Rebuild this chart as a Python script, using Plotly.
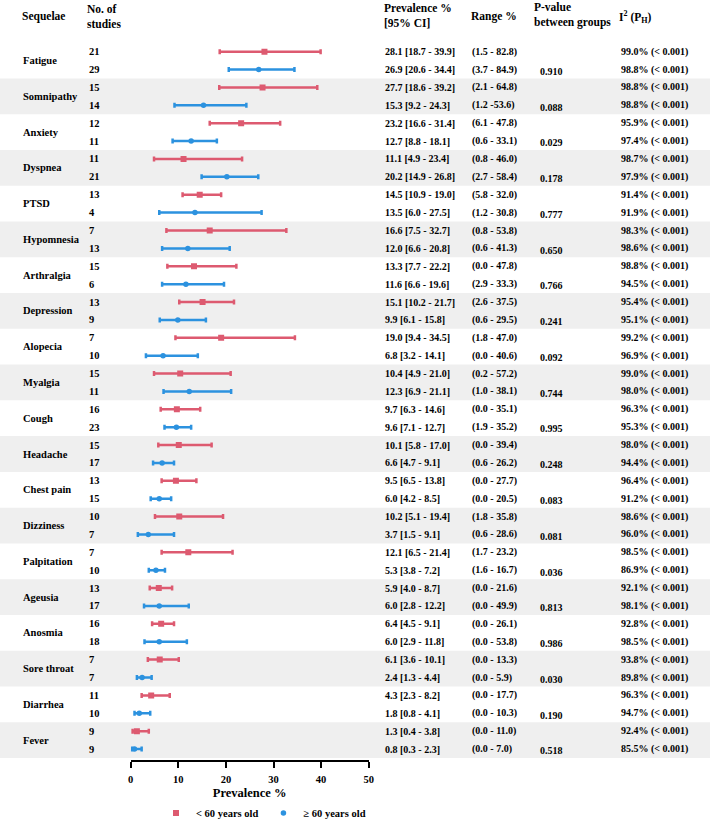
import plotly.graph_objects as go

sequelae = ["Fatigue", "Somnipathy", "Anxiety", "Dyspnea", "PTSD", "Hypomnesia", "Arthralgia",
            "Depression", "Alopecia", "Myalgia", "Cough", "Headache", "Chest pain", "Dizziness",
            "Palpitation", "Ageusia", "Anosmia", "Sore throat", "Diarrhea", "Fever"]

# < 60 years old
n_young = [21, 15, 12, 11, 13, 7, 15, 13, 7, 15, 16, 15, 13, 10, 7, 13, 16, 7, 11, 9]
prev_young = [28.1, 27.7, 23.2, 11.1, 14.5, 16.6, 13.3, 15.1, 19.0, 10.4, 9.7, 10.1, 9.5, 10.2, 12.1, 5.9, 6.4, 6.1, 4.3, 1.3]
lo_young = [18.7, 18.6, 16.6, 4.9, 10.9, 7.5, 7.7, 10.2, 9.4, 4.9, 6.3, 5.8, 6.5, 5.1, 6.5, 4.0, 4.5, 3.6, 2.3, 0.4]
hi_young = [39.9, 39.2, 31.4, 23.4, 19.0, 32.7, 22.2, 21.7, 34.5, 21.0, 14.6, 17.0, 13.8, 19.4, 21.4, 8.7, 9.1, 10.1, 8.2, 3.8]
range_young = ["(1.5 - 82.8)", "(2.1 - 64.8)", "(6.1 - 47.8)", "(0.8 - 46.0)", "(5.8 - 32.0)", "(0.8 - 53.8)",
               "(0.0 - 47.8)", "(2.6 - 37.5)", "(1.8 - 47.0)", "(0.2 - 57.2)", "(0.0 - 35.1)", "(0.0 - 39.4)",
               "(0.0 - 27.7)", "(1.8 - 35.8)", "(1.7 - 23.2)", "(0.0 - 21.6)", "(0.0 - 26.1)", "(0.0 - 13.3)",
               "(0.0 - 17.7)", "(0.0 - 11.0)"]
i2_young = ["99.0%", "98.8%", "95.9%", "98.7%", "91.4%", "98.3%", "98.8%", "95.4%", "99.2%", "99.0%",
            "96.3%", "98.0%", "96.4%", "98.6%", "98.5%", "92.1%", "92.8%", "93.8%", "96.3%", "92.4%"]

# >= 60 years old
n_old = [29, 14, 11, 21, 4, 13, 6, 9, 10, 11, 23, 17, 15, 7, 10, 17, 18, 7, 10, 9]
prev_old = [26.9, 15.3, 12.7, 20.2, 13.5, 12.0, 11.6, 9.9, 6.8, 12.3, 9.6, 6.6, 6.0, 3.7, 5.3, 6.0, 6.0, 2.4, 1.8, 0.8]
lo_old = [20.6, 9.2, 8.8, 14.9, 6.0, 6.6, 6.6, 6.1, 3.2, 6.9, 7.1, 4.7, 4.2, 1.5, 3.8, 2.8, 2.9, 1.3, 0.8, 0.3]
hi_old = [34.4, 24.3, 18.1, 26.8, 27.5, 20.8, 19.6, 15.8, 14.1, 21.1, 12.7, 9.1, 8.5, 9.1, 7.2, 12.2, 11.8, 4.4, 4.1, 2.3]
range_old = ["(3.7 - 84.9)", "(1.2 -53.6)", "(0.6 - 33.1)", "(2.7 - 58.4)", "(1.2 - 30.8)", "(0.6 - 41.3)",
             "(2.9 - 33.3)", "(0.6 - 29.5)", "(0.0 - 40.6)", "(1.0 - 38.1)", "(1.9 - 35.2)", "(0.6 - 26.2)",
             "(0.0 - 20.5)", "(0.6 - 28.6)", "(1.6 - 16.7)", "(0.0 - 49.9)", "(0.0 - 53.8)", "(0.0 - 5.9)",
             "(0.0 - 10.3)", "(0.0 - 7.0)"]
i2_old = ["98.8%", "98.8%", "97.4%", "97.9%", "91.9%", "98.6%", "94.5%", "95.1%", "96.9%", "98.0%",
          "95.3%", "94.4%", "91.2%", "96.0%", "86.9%", "98.1%", "98.5%", "89.8%", "94.7%", "85.5%"]

p_values = ["0.910", "0.088", "0.029", "0.178", "0.777", "0.650", "0.766", "0.241", "0.092", "0.744",
            "0.995", "0.248", "0.083", "0.081", "0.036", "0.813", "0.986", "0.030", "0.190", "0.518"]

xticks = [0, 10, 20, 30, 40, 50]

RED = "#DD5A70"
BLUE = "#2C92DF"
FONT = "Liberation Serif"
W, H = 710, 821

ng = len(sequelae)
y_young = [2 * g for g in range(ng)]
y_old = [2 * g + 1 for g in range(ng)]

fig = go.Figure()
fig.add_trace(go.Scatter(
    x=prev_young, y=y_young, mode="markers", name="< 60 years old",
    marker=dict(symbol="square", size=6, color=RED),
    error_x=dict(type="data", symmetric=False,
                 array=[h - p for h, p in zip(hi_young, prev_young)],
                 arrayminus=[p - l for p, l in zip(prev_young, lo_young)],
                 color=RED, thickness=2.5, width=2.5),
    hoverinfo="skip"))
fig.add_trace(go.Scatter(
    x=prev_old, y=y_old, mode="markers", name="≥ 60 years old",
    marker=dict(symbol="circle", size=5.5, color=BLUE),
    error_x=dict(type="data", symmetric=False,
                 array=[h - p for h, p in zip(hi_old, prev_old)],
                 arrayminus=[p - l for p, l in zip(prev_old, lo_old)],
                 color=BLUE, thickness=2.5, width=2.5),
    hoverinfo="skip"))

shapes = []
for g in range(1, ng, 2):
    shapes.append(dict(type="rect", xref="paper", yref="y", x0=0, x1=1,
                       y0=2 * g - 0.5, y1=2 * g + 1.5, fillcolor="#EFEFEF",
                       line=dict(width=0), layer="below"))

ann = []
def txt(px, y, s, size=10, yref="y", anchor="left"):
    ann.append(dict(xref="paper", yref=yref, x=px / W, y=y, text=s, showarrow=False,
                    xanchor=anchor, yanchor="middle", align="left",
                    font=dict(family=FONT, size=size, color="black", weight="bold")))

def hy(py):
    return 1 - py / H
txt(20, hy(17), "Sequelae", 11.5, "paper")
txt(85, hy(16), "No. of<br>studies", 11.5, "paper")
txt(382.5, hy(15), "Prevalence %<br>[95% CI]", 11.5, "paper")
txt(469, hy(17), "Range %", 11.5, "paper")
txt(531.5, hy(15), "P-value<br>between groups", 11.5, "paper")
txt(616.5, hy(17), "I<sup>2</sup> (P<sub>H</sub>)", 11.5, "paper")

for g in range(ng):
    a, b = y_young[g], y_old[g]
    txt(20.5, (a + b) / 2, sequelae[g], 10.5)
    txt(87, a, str(n_young[g]), 10.5)
    txt(87, b, str(n_old[g]), 10.5)
    txt(383, a, f"{prev_young[g]:.1f} [{lo_young[g]:.1f} - {hi_young[g]:.1f}]", 10)
    txt(383, b, f"{prev_old[g]:.1f} [{lo_old[g]:.1f} - {hi_old[g]:.1f}]", 10)
    txt(470, a, range_young[g], 10)
    txt(470, b, range_old[g], 10)
    txt(538, b + 0.1, p_values[g], 10)
    txt(619, a, f"{i2_young[g]} (< 0.001)", 10)
    txt(619, b, f"{i2_old[g]} (< 0.001)", 10)

row0, step, axis_px = 51.7, 17.88, 760
fig.update_layout(
    width=W, height=H, margin=dict(l=0, r=0, t=0, b=0, autoexpand=False),
    paper_bgcolor="white", plot_bgcolor="rgba(0,0,0,0)",
    shapes=shapes, annotations=ann,
    xaxis=dict(domain=[130.7 / W, 368.7 / W], range=[0, 50], tickvals=xticks,
               showgrid=False, zeroline=False, showline=True, linecolor="black", linewidth=2,
               ticks="outside", ticklen=6, tickwidth=2, tickcolor="black", ticklabelstandoff=2,
               tickfont=dict(family=FONT, size=10.5, color="black", weight="bold"),
               title=dict(text="Prevalence %", standoff=5,
                          font=dict(family=FONT, size=12.5, color="black", weight="bold"))),
    yaxis=dict(domain=[1 - axis_px / H, 1],
               range=[(axis_px - row0) / step, -row0 / step],
               visible=False, showgrid=False, zeroline=False),
    showlegend=True,
    legend=dict(orientation="h", x=156 / W, y=1 - 813 / H, xanchor="left", yanchor="middle",
                font=dict(family=FONT, size=10.5, color="black", weight="bold"),
                bgcolor="rgba(0,0,0,0)", itemclick=False, tracegroupgap=0),
)

fig.write_html("out.html", config={"displayModeBar": False},
               post_script="document.body.style.margin='0';")
